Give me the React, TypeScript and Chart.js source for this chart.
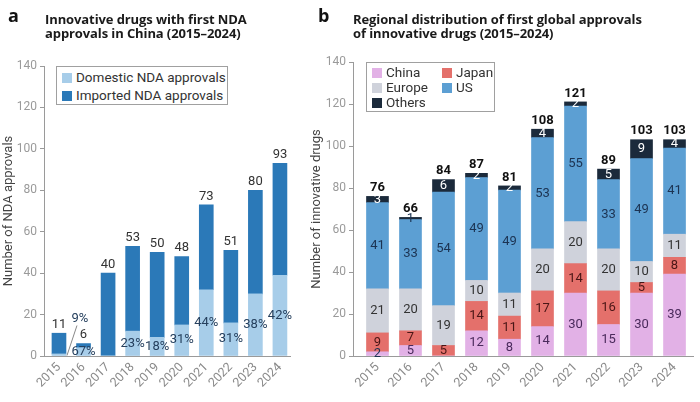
import React, { useEffect, useRef } from 'react';
import Chart from 'chart.js/auto';

// years on both panels
const years = ['2015', '2016', '2017', '2018', '2019', '2020', '2021', '2022', '2023', '2024'];

// panel a: first NDA approvals in China
const domesticNda = [1, 4, 0, 12, 9, 15, 32, 16, 30, 39];
const importedNda = [10, 2, 40, 41, 41, 33, 41, 35, 50, 54];

// panel b: first global approvals by region
const chinaFirst = [2, 5, 0, 12, 8, 14, 30, 15, 30, 39];
const japanFirst = [9, 7, 5, 14, 11, 17, 14, 16, 5, 8];
const europeFirst = [21, 20, 19, 10, 11, 20, 20, 20, 10, 11];
const usFirst = [41, 33, 54, 49, 49, 53, 55, 33, 49, 41];
const othersFirst = [3, 1, 6, 2, 2, 4, 2, 5, 9, 4];

const yMax = 140;
const yStep = 20;

const FONT = 'Roboto';
const TITLE_FONT = '"Open Sans"';
const AXIS = '#9a9a9a';

const toPoints = (arr: number[]) => arr.map((v, i) => ({ x: i, y: v }));

// common axis setup, linear x so the gap to the y axis can match the figure
function axes(xMin: number, xMax: number, yWidth: number, yTitle: string, titlePad: number) {
    return {
        x: {
            type: 'linear' as const,
            stacked: true,
            offset: false, // bar charts turn this on by default, it stretches the range
            min: xMin,
            max: xMax,
            afterBuildTicks: (s: any) => { s.ticks = years.map((_, i) => ({ value: i })); },
            afterFit: (s: any) => { s.height = 46; },
            grid: { display: false, drawTicks: false, offset: false },
            border: { color: AXIS },
            ticks: {
                autoSkip: false,
                color: '#8a8a8a',
                font: { size: 12.5, family: FONT },
                minRotation: 45,
                maxRotation: 45,
                padding: 4,
                callback: (v: any) => years[v] ?? ''
            }
        },
        y: {
            stacked: true,
            min: 0,
            max: yMax,
            afterFit: (s: any) => { s.width = yWidth; },
            grid: { drawOnChartArea: false, tickLength: 4, color: AXIS },
            border: { color: AXIS },
            ticks: { stepSize: yStep, color: '#9a9a9a', font: { size: 12, family: FONT }, padding: 3 },
            title: {
                display: true,
                text: yTitle,
                color: '#444',
                font: { size: 13, family: FONT },
                padding: { top: titlePad, bottom: 0 }
            }
        }
    };
}

// totals above, domestic share inside the light part
const ndaLabels = {
    id: 'ndaLabels',
    afterDatasetsDraw(chart: any) {
        const ctx = chart.ctx;
        const dom = chart.getDatasetMeta(0).data;
        const imp = chart.getDatasetMeta(1).data;
        ctx.save();
        ctx.font = `13px ${FONT}`;
        ctx.textAlign = 'center';
        years.forEach((_, i) => {
            const total = domesticNda[i] + importedNda[i];
            const top = Math.min(dom[i].y, imp[i].y);
            ctx.fillStyle = '#333';
            ctx.textBaseline = 'bottom';
            ctx.fillText(String(total), dom[i].x, top - 2);
            if (!domesticNda[i]) return;
            const pct = Math.round((domesticNda[i] / total) * 100) + '%';
            const bar = dom[i];
            ctx.textBaseline = 'middle';
            ctx.fillStyle = '#26405e';
            if (bar.base - bar.y < 5) {
                // too thin: pull the label out with a leader line
                ctx.strokeStyle = '#888';
                ctx.lineWidth = 1;
                ctx.beginPath();
                ctx.moveTo(bar.x + 8, bar.base);
                ctx.lineTo(bar.x + 18, bar.base - 30);
                ctx.stroke();
                ctx.fillText(pct, bar.x + 21, bar.base - 37);
            } else {
                ctx.fillText(pct, bar.x, (bar.y + bar.base) / 2);
            }
        });
        ctx.restore();
    }
};

const regionSeries = [
    { label: 'China', data: chinaFirst, color: '#e2b1e6', text: '#4a2a5c' },
    { label: 'Japan', data: japanFirst, color: '#e4706b', text: '#4a1616' },
    { label: 'Europe', data: europeFirst, color: '#cfd2db', text: '#333' },
    { label: 'US', data: usFirst, color: '#5c9fd3', text: '#1c3352' },
    { label: 'Others', data: othersFirst, color: '#1b2a3b', text: '#fff' }
];

const regionLabels = {
    id: 'regionLabels',
    afterDatasetsDraw(chart: any) {
        const ctx = chart.ctx;
        ctx.save();
        ctx.textAlign = 'center';
        ctx.textBaseline = 'middle';
        ctx.font = `13px ${FONT}`;
        regionSeries.forEach((s, d) => {
            const meta = chart.getDatasetMeta(d);
            s.data.forEach((v, i) => {
                if (!v) return;
                const el = meta.data[i];
                // a hairline segment gets a dark label, it sits on the blue
                ctx.fillStyle = el.base - el.y < 4 ? '#1c3352' : s.text;
                ctx.fillText(String(v), el.x, (el.y + el.base) / 2);
            });
        });
        const top = chart.getDatasetMeta(regionSeries.length - 1).data;
        ctx.font = `bold 13px ${FONT}`;
        ctx.fillStyle = '#111';
        ctx.textBaseline = 'bottom';
        years.forEach((_, i) => {
            const total = regionSeries.reduce((sum, s) => sum + s.data[i], 0);
            ctx.fillText(String(total), top[i].x, top[i].y - 2);
        });
        ctx.restore();
    }
};

const LegendBox: React.FC<{ style: React.CSSProperties; items: { label: string; color: string; left: number; top: number }[] }> = ({ style, items }) => (
    <div style={{ position: 'absolute', border: '1px solid #a0a0a0', boxSizing: 'border-box', background: '#fff', ...style }}>
        {items.map(it => (
            <div key={it.label} style={{ position: 'absolute', left: it.left, top: it.top, display: 'flex', alignItems: 'center', whiteSpace: 'nowrap', fontSize: 13.5, color: '#333', lineHeight: '15px' }}>
                <span style={{ display: 'inline-block', width: 10, height: 10, background: it.color, marginRight: 4 }} />
                {it.label}
            </div>
        ))}
    </div>
);

const App: React.FC = () => {
    const refA = useRef<HTMLCanvasElement | null>(null);
    const refB = useRef<HTMLCanvasElement | null>(null);

    useEffect(() => {
        Chart.defaults.font.family = FONT;
        const a = new Chart(refA.current!, {
            type: 'bar',
            data: {
                datasets: [
                    { label: 'Domestic NDA approvals', data: toPoints(domesticNda) as any, backgroundColor: '#a7cde9', barThickness: 14 },
                    { label: 'Imported NDA approvals', data: toPoints(importedNda) as any, backgroundColor: '#2b79b8', barThickness: 14 }
                ]
            },
            options: {
                responsive: false,
                animation: false,
                layout: { autoPadding: false, padding: { top: 66, right: 10, left: 0, bottom: 0 } },
                plugins: { legend: { display: false }, tooltip: { enabled: false } },
                scales: axes(-0.61, 9.41, 44, 'Number of NDA approvals', 1) as any
            },
            plugins: [ndaLabels]
        });
        const b = new Chart(refB.current!, {
            type: 'bar',
            data: {
                datasets: regionSeries.map(s => ({ label: s.label, data: toPoints(s.data) as any, backgroundColor: s.color, barThickness: 22 }))
            },
            options: {
                responsive: false,
                animation: false,
                layout: { autoPadding: false, padding: { top: 62, right: 7, left: 0, bottom: 0 } },
                plugins: { legend: { display: false }, tooltip: { enabled: false } },
                scales: axes(-0.742, 9.56, 53, 'Number of innovative drugs', 9) as any
            },
            plugins: [regionLabels]
        });
        return () => { a.destroy(); b.destroy(); };
    }, []);

    const titleStyle: React.CSSProperties = { position: 'absolute', fontFamily: TITLE_FONT, fontWeight: 700, fontSize: 13, lineHeight: '14px', color: '#1a1a1a', letterSpacing: -0.1 };
    const letterStyle: React.CSSProperties = { position: 'absolute', fontFamily: TITLE_FONT, fontWeight: 700, fontSize: 18, lineHeight: '18px', color: '#111' };

    return (
        <div style={{ position: 'absolute', left: 0, top: 0, width: 700, height: 402, background: '#fff', fontFamily: FONT, overflow: 'hidden' }}>
            <canvas ref={refA} width={300} height={402} style={{ position: 'absolute', left: 0, top: 0, width: 300, height: 402 }} />
            <canvas ref={refB} width={400} height={402} style={{ position: 'absolute', left: 300, top: 0, width: 400, height: 402 }} />

            <div style={{ ...letterStyle, left: 8, top: 6 }}>a</div>
            <div style={{ ...titleStyle, left: 45, top: 12 }}>Innovative drugs with first NDA<br />approvals in China (2015–2024)</div>
            <div style={{ ...letterStyle, left: 318, top: 6 }}>b</div>
            <div style={{ ...titleStyle, left: 353, top: 12 }}>Regional distribution of first global approvals<br />of innovative drugs (2015–2024)</div>

            <LegendBox
                style={{ left: 56, top: 66, width: 172, height: 39 }}
                items={[
                    { label: 'Domestic NDA approvals', color: '#a7cde9', left: 5, top: 3 },
                    { label: 'Imported NDA approvals', color: '#2b79b8', left: 5, top: 21 }
                ]}
            />
            <LegendBox
                style={{ left: 366, top: 62, width: 129, height: 50 }}
                items={[
                    { label: 'China', color: regionSeries[0].color, left: 5, top: 2 },
                    { label: 'Japan', color: regionSeries[1].color, left: 75, top: 2 },
                    { label: 'Europe', color: regionSeries[2].color, left: 5, top: 17 },
                    { label: 'US', color: regionSeries[3].color, left: 75, top: 17 },
                    { label: 'Others', color: regionSeries[4].color, left: 5, top: 32 }
                ]}
            />
        </div>
    );
};

export default App;
